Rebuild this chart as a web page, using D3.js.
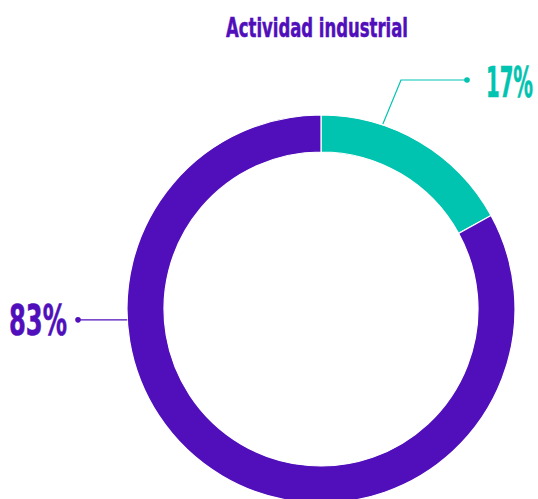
<!DOCTYPE html>
<html>
<head>
<meta charset="utf-8">
<script src="https://cdn.jsdelivr.net/npm/d3@7"></script>
<style>
  body { margin: 0; background: #fff; }
  text { font-family: "DejaVu Sans Condensed", "DejaVu Sans", sans-serif; font-weight: bold; }
</style>
</head>
<body>
<div id="chart"></div>
<script>
// datos
const title = 'Actividad industrial';
const categories = ['Otros', 'Industrial'];
const values = [17, 83];
const colors = ['#00c3b0', '#500fbb'];

const width = 538, height = 499;
const cx = 321, cy = 309;
const outerR = 194, innerR = 157;

const svg = d3.select('#chart').append('svg')
  .attr('width', width)
  .attr('height', height);

svg.append('text')
  .attr('x', 226)
  .attr('y', 37)
  .attr('fill', colors[1])
  .attr('stroke', colors[1])
  .attr('stroke-width', 0.5)
  .style('font-size', '26px')
  .attr('textLength', 182)
  .attr('lengthAdjust', 'spacingAndGlyphs')
  .text(title);

const data = categories.map((c, i) => ({ category: c, value: values[i], color: colors[i] }));

const pie = d3.pie().sort(null).value((d) => d.value);
const arc = d3.arc().innerRadius(innerR).outerRadius(outerR);

const g = svg.append('g')
  .attr('transform', 'translate(' + cx + ',' + cy + ')');

g.selectAll('path')
  .data(pie(data))
  .enter()
  .append('path')
  .attr('d', arc)
  .attr('fill', (d) => d.data.color)
  .attr('stroke', '#fff')
  .attr('stroke-width', 1.2);

// puntos en el borde para las lineas guia
const edge = (deg, r) => {
  const a = deg * Math.PI / 180;
  return [r * Math.sin(a), -r * Math.cos(a)];
};

// 17%
const p1 = edge(18.5, outerR + 1);
const elbow1 = [401 - cx, 80 - cy];
const end1 = [467 - cx, 80 - cy];
g.append('polyline')
  .attr('points', [p1, elbow1, end1].map((p) => p.join(',')).join(' '))
  .attr('fill', 'none')
  .attr('stroke', colors[0])
  .attr('stroke-width', 1.2);
g.append('circle')
  .attr('cx', end1[0]).attr('cy', end1[1]).attr('r', 2.8)
  .attr('fill', colors[0]);
svg.append('text')
  .attr('x', 486)
  .attr('y', 97)
  .attr('fill', colors[0])
  .attr('stroke', colors[0])
  .attr('stroke-width', 0.6)
  .style('font-size', '43px')
  .attr('textLength', 47)
  .attr('lengthAdjust', 'spacingAndGlyphs')
  .text(values[0] + '%');

// 83%
const p2 = edge(266.8, outerR);
const end2 = [78 - cx, p2[1]];
g.append('line')
  .attr('x1', p2[0]).attr('y1', p2[1])
  .attr('x2', end2[0]).attr('y2', end2[1])
  .attr('stroke', colors[1])
  .attr('stroke-width', 1.2);
g.append('circle')
  .attr('cx', end2[0]).attr('cy', end2[1]).attr('r', 2.8)
  .attr('fill', colors[1]);
svg.append('text')
  .attr('x', 9)
  .attr('y', 335)
  .attr('fill', colors[1])
  .attr('stroke', colors[1])
  .attr('stroke-width', 0.6)
  .style('font-size', '43px')
  .attr('textLength', 58)
  .attr('lengthAdjust', 'spacingAndGlyphs')
  .text(values[1] + '%');
</script>
</body>
</html>
